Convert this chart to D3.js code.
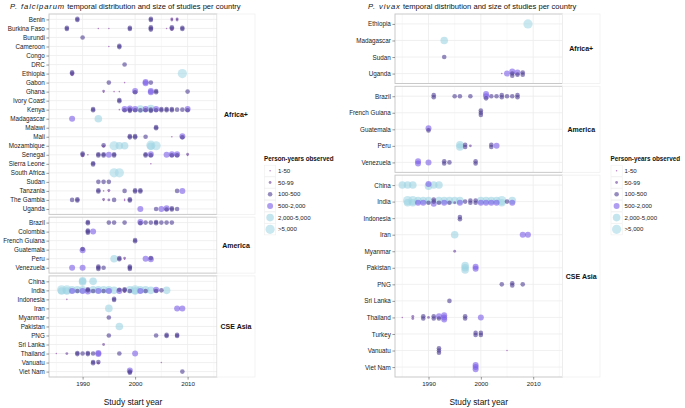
<!DOCTYPE html>
<html><head><meta charset="utf-8">
<script src="https://cdn.jsdelivr.net/npm/d3@7"></script>
<style>
body{margin:0;background:#fff;}
svg{font-family:"Liberation Sans",Arial,Helvetica,sans-serif;}
</style></head>
<body><svg id="chart" width="685" height="408"></svg>
<script>
// ---------- data ----------
const regions = ["Africa+", "America", "CSE Asia"];
const sizeLabels = ["1-50", "50-99", "100-500", "500-2,000", "2,000-5,000", ">5,000"];
const xTicks = [1990, 2000, 2010];

const pfAfrica = ["Benin","Burkina Faso","Burundi","Cameroon","Congo","DRC","Ethiopia","Gabon","Ghana","Ivory Coast","Kenya","Madagascar","Malawi","Mali","Mozambique","Senegal","Sierra Leone","South Africa","Sudan","Tanzania","The Gambia","Uganda"];
const pfAmerica = ["Brazil","Colombia","French Guiana","Guatemala","Peru","Venezuela"];
const pfAsia = ["China","India","Indonesia","Iran","Myanmar","Pakistan","PNG","Sri Lanka","Thailand","Vanuatu","Viet Nam"];

const pvAfrica = ["Ethiopia","Madagascar","Sudan","Uganda"];
const pvAmerica = ["Brazil","French Guiana","Guatemala","Peru","Venezuela"];
const pvAsia = ["China","India","Indonesia","Iran","Myanmar","Pakistan","PNG","Sri Lanka","Thailand","Turkey","Vanuatu","Viet Nam"];

// [country, study start year, size class index]
const pfStudies = [
["Benin",1989,2],["Benin",1989,2],["Benin",2003,2],["Benin",2003,2],["Benin",2007,1],["Benin",2007,1],["Benin",2008,1],["Benin",2008,1],
["Burkina Faso",1987,2],["Burkina Faso",1987,2],["Burkina Faso",1993,0],["Burkina Faso",1995,0],["Burkina Faso",1999,2],["Burkina Faso",1999,2],["Burkina Faso",2003,2],["Burkina Faso",2003,2],["Burkina Faso",2003,2],["Burkina Faso",2006,0],["Burkina Faso",2007,2],["Burkina Faso",2007,2],["Burkina Faso",2007,1],["Burkina Faso",2009,2],["Burkina Faso",2009,2],
["Burundi",1990,2],
["Cameroon",1995,0],["Cameroon",1997,2],["Cameroon",1997,2],
["DRC",1998,2],
["Ethiopia",1988,2],["Ethiopia",1988,2],["Ethiopia",1988,1],["Ethiopia",2009,5],
["Gabon",1995,2],["Gabon",1998,0],["Gabon",2002,3],["Gabon",2002,3],["Gabon",2003,2],
["Ghana",1994,1],["Ghana",1994,0],["Ghana",1996,0],["Ghana",1997,0],["Ghana",2000,3],["Ghana",2000,2],["Ghana",2003,3],["Ghana",2003,3],["Ghana",2004,2],["Ghana",2004,2],["Ghana",2010,2],
["Ivory Coast",1997,2],["Ivory Coast",1997,2],
["Kenya",1992,2],["Kenya",1992,2],["Kenya",1997,0],
["Kenya",1998,3],["Kenya",1998,2],["Kenya",1999,3],["Kenya",1999,2],["Kenya",1999,2],["Kenya",2000,3],["Kenya",2000,2],["Kenya",2001,4],["Kenya",2001,2],["Kenya",2002,3],["Kenya",2002,2],["Kenya",2003,4],["Kenya",2003,2],["Kenya",2003,2],["Kenya",2004,3],["Kenya",2004,2],["Kenya",2005,2],["Kenya",2005,2],["Kenya",2006,2],["Kenya",2006,2],["Kenya",2007,2],["Kenya",2007,2],["Kenya",2008,2],["Kenya",2009,2],["Kenya",2010,3],["Kenya",2010,2],
["Madagascar",1988,3],["Madagascar",1993,4],
["Malawi",2004,2],["Malawi",2004,2],
["Mali",1999,2],["Mali",1999,2],["Mali",2000,2],["Mali",2000,2],["Mali",2002,2],["Mali",2007,0],["Mali",2009,3],["Mali",2009,2],
["Mozambique",1994,2],["Mozambique",1994,1],["Mozambique",1996,5],["Mozambique",1997,4],["Mozambique",1998,4],["Mozambique",2003,5],["Mozambique",2003,4],["Mozambique",2004,5],
["Senegal",1990,2],["Senegal",1990,2],["Senegal",1990,1],["Senegal",1991,0],["Senegal",1993,2],["Senegal",1993,2],["Senegal",1994,2],["Senegal",1994,2],["Senegal",1995,3],["Senegal",1996,2],["Senegal",1996,2],["Senegal",2002,2],["Senegal",2002,2],["Senegal",2003,3],["Senegal",2003,2],["Senegal",2006,3],["Senegal",2007,3],["Senegal",2007,2],["Senegal",2008,3],["Senegal",2008,2],["Senegal",2010,1],["Senegal",2010,0],
["Sierra Leone",1992,2],["Sierra Leone",1992,2],["Sierra Leone",2003,0],
["South Africa",1996,5],["South Africa",1997,5],
["Sudan",1993,2],["Sudan",1994,2],["Sudan",1995,2],
["Tanzania",1993,2],["Tanzania",1993,2],["Tanzania",1994,0],["Tanzania",1995,1],["Tanzania",1995,0],["Tanzania",1998,2],["Tanzania",2000,2],["Tanzania",2000,2],["Tanzania",2001,2],["Tanzania",2001,2],["Tanzania",2008,2],["Tanzania",2009,3],
["The Gambia",1988,2],["The Gambia",1989,2],["The Gambia",1989,2],["The Gambia",1994,1],["The Gambia",1994,0],["The Gambia",1995,1],["The Gambia",1996,2],["The Gambia",1998,0],["The Gambia",1998,0],["The Gambia",1999,2],["The Gambia",1999,2],
["Uganda",2001,3],["Uganda",2004,2],["Uganda",2005,3],["Uganda",2006,3],["Uganda",2006,2],["Uganda",2007,2],["Uganda",2007,2],["Uganda",2008,2],
["Brazil",1991,2],["Brazil",1991,2],["Brazil",1995,2],["Brazil",1996,2],["Brazil",1998,2],["Brazil",2001,3],["Brazil",2001,2],["Brazil",2002,2],["Brazil",2003,2],["Brazil",2004,2],["Brazil",2004,2],["Brazil",2005,2],["Brazil",2006,2],["Brazil",2007,2],
["Colombia",1991,2],["Colombia",1991,2],["Colombia",1991,2],["Colombia",1992,3],
["French Guiana",2000,2],["French Guiana",2000,2],
["Guatemala",1990,2],["Guatemala",1990,3],
["Peru",1996,4],["Peru",1997,2],["Peru",1997,2],["Peru",1998,1],["Peru",1998,0],["Peru",2002,3],["Peru",2003,2],["Peru",2003,3],
["Venezuela",1988,3],["Venezuela",1990,3],["Venezuela",1993,2],["Venezuela",1993,2],["Venezuela",1993,2],["Venezuela",1994,2],["Venezuela",1999,2],["Venezuela",1999,2],["Venezuela",1999,2],
["China",1990,4],["China",1990,4],["China",1992,4],
["India",1986,5],["India",1986,4],["India",1987,5],["India",1987,4],["India",1988,4],["India",1988,3],["India",1989,4],["India",1989,2],["India",1990,4],["India",1990,3],["India",1991,2],["India",1991,2],["India",1991,3],["India",1992,4],["India",1992,2],["India",1993,4],["India",1993,3],["India",1994,4],["India",1994,2],["India",1995,4],["India",1995,3],["India",1996,4],["India",1997,2],["India",1997,3],["India",1998,2],["India",1998,2],["India",1998,1],["India",1999,4],["India",1999,2],["India",2000,5],["India",2000,4],["India",2001,4],["India",2001,3],["India",2002,4],["India",2002,2],["India",2003,4],["India",2004,3],["India",2004,2],["India",2005,2],["India",2006,4],
["Indonesia",1987,0],["Indonesia",1996,2],["Indonesia",1996,2],
["Iran",1995,4],["Iran",2008,3],["Iran",2009,3],
["Myanmar",1995,2],
["Pakistan",1997,4],
["PNG",1995,2],["PNG",2004,2],["PNG",2006,2],["PNG",2006,2],["PNG",2008,2],["PNG",2008,2],
["Sri Lanka",1994,1],
["Thailand",1985,0],["Thailand",1987,1],["Thailand",1989,2],["Thailand",1989,2],["Thailand",1990,2],["Thailand",1991,2],["Thailand",1991,2],["Thailand",1992,2],["Thailand",1993,3],["Thailand",1993,3],["Thailand",1997,2],["Thailand",2000,3],
["Vanuatu",1992,2],["Vanuatu",1992,2],["Vanuatu",1993,2],["Vanuatu",1993,1],["Vanuatu",2005,0],
["Viet Nam",1999,3],["Viet Nam",1999,2],["Viet Nam",1999,2],["Viet Nam",2009,2]
];

const pvStudies = [
["Ethiopia",2009,5],
["Madagascar",1993,4],
["Sudan",1993,2],
["Uganda",2004,0],["Uganda",2005,3],["Uganda",2006,3],["Uganda",2006,2],["Uganda",2006,2],["Uganda",2007,3],["Uganda",2007,2],["Uganda",2008,2],["Uganda",2008,2],
["Brazil",1991,2],["Brazil",1991,2],["Brazil",1995,2],["Brazil",1996,2],["Brazil",1998,2],["Brazil",2001,3],["Brazil",2001,3],["Brazil",2001,2],["Brazil",2002,2],["Brazil",2003,2],["Brazil",2004,2],["Brazil",2004,2],["Brazil",2005,2],["Brazil",2006,2],["Brazil",2007,2],["Brazil",2007,2],
["French Guiana",2000,2],["French Guiana",2000,2],["French Guiana",2000,2],
["Guatemala",1990,3],["Guatemala",1990,2],
["Peru",1996,4],["Peru",1996,4],["Peru",1997,2],["Peru",1997,2],["Peru",1998,1],["Peru",2002,2],["Peru",2002,2],["Peru",2003,3],
["Venezuela",1988,3],["Venezuela",1988,3],["Venezuela",1990,3],["Venezuela",1993,2],["Venezuela",1993,2],["Venezuela",1994,2],["Venezuela",1999,2],["Venezuela",1999,2],
["China",1985,4],["China",1986,4],["China",1987,4],["China",1990,3],["China",1990,4],["China",1991,4],["China",1992,4],
["India",1986,5],["India",1986,4],["India",1987,5],["India",1987,4],["India",1988,4],["India",1988,3],["India",1989,4],["India",1989,3],["India",1990,4],["India",1990,2],["India",1991,2],["India",1991,2],["India",1991,3],["India",1992,4],["India",1992,2],["India",1993,4],["India",1993,3],["India",1994,4],["India",1994,2],["India",1995,4],["India",1995,1],["India",1996,4],["India",1996,3],["India",1997,2],["India",1998,2],["India",1998,2],["India",1999,2],["India",1999,2],["India",2000,4],["India",2000,3],["India",2001,4],["India",2001,3],["India",2002,4],["India",2002,3],["India",2003,4],["India",2003,3],["India",2004,5],["India",2004,4],["India",2005,2],["India",2006,4],["India",2006,3],
["Indonesia",1996,2],["Indonesia",1996,2],
["Iran",1995,4],["Iran",2008,3],["Iran",2009,3],
["Myanmar",1995,1],
["Pakistan",1997,4],["Pakistan",1997,4],["Pakistan",1997,4],["Pakistan",1999,3],["Pakistan",1999,3],
["PNG",2004,2],["PNG",2006,2],["PNG",2006,2],["PNG",2008,2],
["Sri Lanka",1994,2],
["Thailand",1985,0],["Thailand",1987,1],["Thailand",1987,1],["Thailand",1989,2],["Thailand",1989,2],["Thailand",1990,1],["Thailand",1991,2],["Thailand",1991,2],["Thailand",1992,3],["Thailand",1992,2],["Thailand",1993,3],["Thailand",1993,3],["Thailand",1993,3],["Thailand",1997,2],["Thailand",1997,2],["Thailand",2000,3],
["Turkey",1999,2],["Turkey",1999,2],["Turkey",2000,2],["Turkey",2000,2],
["Vanuatu",1992,2],["Vanuatu",1992,2],["Vanuatu",1992,2],["Vanuatu",2005,0],
["Viet Nam",1999,3],["Viet Nam",1999,3],["Viet Nam",1999,3]
];

// ---------- styles ----------
const sizeColors = ["#8a3aa6", "#6b3f9c", "#4f3d92", "#7a5ce8", "#9dd3e3", "#a6d9e6"];
const sizeRadii = [0.8, 1.4, 2.3, 3.0, 3.8, 4.6];
const xDomain = [1983.6, 2015.6];

const svg = d3.select("#chart");

function drawChart(o) {
  const g = svg.append("g");
  const top = 14, bottom = 377, gap = 2.8, pad = 0.6;
  const x = d3.scaleLinear().domain(xDomain).range([o.x0, o.x1]);
  const groups = o.groups;
  const units = d3.sum(groups, d => d[1].length - 1 + 2 * pad);
  const unit = (bottom - top - gap * (groups.length - 1)) / units;

  // title
  const t = g.append("text").attr("x", o.titleX).attr("y", 9).attr("font-size", 7.6).attr("fill", "#111");
  t.append("tspan").attr("font-style", "italic").attr("letter-spacing", 0.9).text(o.italic);
  t.append("tspan").text(o.rest);

  let y0 = top;
  const yScales = {};
  groups.forEach(([region, countries], gi) => {
    const h = (countries.length - 1 + 2 * pad) * unit;
    const y1 = y0 + h;
    const y = d3.scalePoint().domain(countries).range([y0 + pad * unit, y1 - pad * unit]);
    countries.forEach(c => yScales[c] = y);

    // panel bg
    g.append("rect").attr("x", o.x0).attr("y", y0).attr("width", o.x1 - o.x0).attr("height", h).attr("fill", "#fff");
    // grid
    const minor = [1985, 1995, 2005, 2015].filter(v => v < xDomain[1]);
    g.append("g").selectAll("line").data(minor).join("line")
      .attr("x1", d => x(d)).attr("x2", d => x(d)).attr("y1", y0).attr("y2", y1)
      .attr("stroke", "#f4f4f4").attr("stroke-width", 0.6);
    g.append("g").selectAll("line").data(xTicks).join("line")
      .attr("x1", d => x(d)).attr("x2", d => x(d)).attr("y1", y0).attr("y2", y1)
      .attr("stroke", "#ececec").attr("stroke-width", 0.8);
    g.append("g").selectAll("line").data(countries).join("line")
      .attr("x1", o.x0).attr("x2", o.x1).attr("y1", d => y(d)).attr("y2", d => y(d))
      .attr("stroke", "#ececec").attr("stroke-width", 0.8);

    // points
    const pts = o.studies.filter(s => countries.includes(s[0]));
    const keyCount = d3.rollup(pts, v => v.length, s => s[0] + "|" + s[1]);
    const keyIdx = new Map();
    const placed = pts.map(s => {
      const k = s[0] + "|" + s[1];
      const i = keyIdx.get(k) || 0; keyIdx.set(k, i + 1);
      const n = keyCount.get(k);
      return {c: s[0], yr: s[1], cat: s[2], off: (i - (n - 1) / 2) * 0.13 * unit};
    }).sort((a, b) => b.cat - a.cat);
    g.append("g").selectAll("circle").data(placed).join("circle")
      .attr("cx", d => x(d.yr)).attr("cy", d => y(d.c) + d.off)
      .attr("r", d => sizeRadii[d.cat]).attr("fill", d => sizeColors[d.cat]).attr("fill-opacity", 0.6);

    // border
    g.append("rect").attr("x", o.x0).attr("y", y0).attr("width", o.x1 - o.x0).attr("height", h)
      .attr("fill", "none").attr("stroke", "#c4c4c4").attr("stroke-width", 0.9);

    // y axis
    const ya = g.append("g").attr("transform", `translate(${o.x0},0)`)
      .call(d3.axisLeft(y).tickSize(2.6).tickPadding(1.6));
    ya.select(".domain").remove();
    ya.selectAll("line").attr("stroke", "#555").attr("stroke-width", 0.6);
    ya.selectAll("text").attr("font-size", 6.3).attr("fill", "#222").attr("font-family", null);

    // strip
    g.append("rect").attr("x", o.x1).attr("y", y0).attr("width", o.sx - o.x1).attr("height", h)
      .attr("fill", "#fff").attr("stroke", "#efefef").attr("stroke-width", 0.8);
    g.append("text").attr("x", (o.x1 + o.sx) / 2).attr("y", (y0 + y1) / 2).attr("dy", "0.35em")
      .attr("text-anchor", "middle").attr("font-size", 7).attr("font-weight", "bold").attr("fill", "#111").text(region);

    if (gi === groups.length - 1) {
      const xa = g.append("g").attr("transform", `translate(0,${y1})`)
        .call(d3.axisBottom(x).tickValues(xTicks).tickFormat(d3.format("d")).tickSize(2.6).tickPadding(2));
      xa.select(".domain").remove();
      xa.selectAll("line").attr("stroke", "#555").attr("stroke-width", 0.6);
      xa.selectAll("text").attr("font-size", 6.2).attr("fill", "#222").attr("font-family", null);
    }
    y0 = y1 + gap;
  });

  g.append("text").attr("x", (o.x0 + o.x1) / 2).attr("y", 404.5).attr("text-anchor", "middle")
    .attr("font-size", 8.4).attr("fill", "#111").text("Study start year");

  // legend
  const lg = g.append("g");
  lg.append("text").attr("x", o.lx).attr("y", 161).attr("font-size", 6.3).attr("font-weight", "bold").attr("fill", "#111")
    .text("Person-years observed");
  sizeLabels.forEach((lab, i) => {
    const cy = 170.8 + i * 11.7;
    lg.append("rect").attr("x", o.lx + 0.5).attr("y", cy - 5.6).attr("width", 11.2).attr("height", 11.2)
      .attr("fill", "#fff").attr("stroke", "#eeeeee").attr("stroke-width", 0.6);
    lg.append("circle").attr("cx", o.lx + 6.1).attr("cy", cy).attr("r", sizeRadii[i])
      .attr("fill", sizeColors[i]).attr("fill-opacity", 0.6);
    lg.append("text").attr("x", o.lx + 14).attr("y", cy).attr("dy", "0.35em").attr("font-size", 6.1).attr("fill", "#222").text(lab);
  });
}

drawChart({
  italic: "P. falciparum", rest: " temporal distribution and size of studies per country", titleX: 10,
  x0: 49, x1: 217, sx: 255, lx: 264,
  groups: [[regions[0], pfAfrica], [regions[1], pfAmerica], [regions[2], pfAsia]],
  studies: pfStudies
});
drawChart({
  italic: "P. vivax", rest: " temporal distribution and size of studies per country", titleX: 368,
  x0: 395, x1: 562.5, sx: 600, lx: 610.5,
  groups: [[regions[0], pvAfrica], [regions[1], pvAmerica], [regions[2], pvAsia]],
  studies: pvStudies
});
</script>
</body></html>
